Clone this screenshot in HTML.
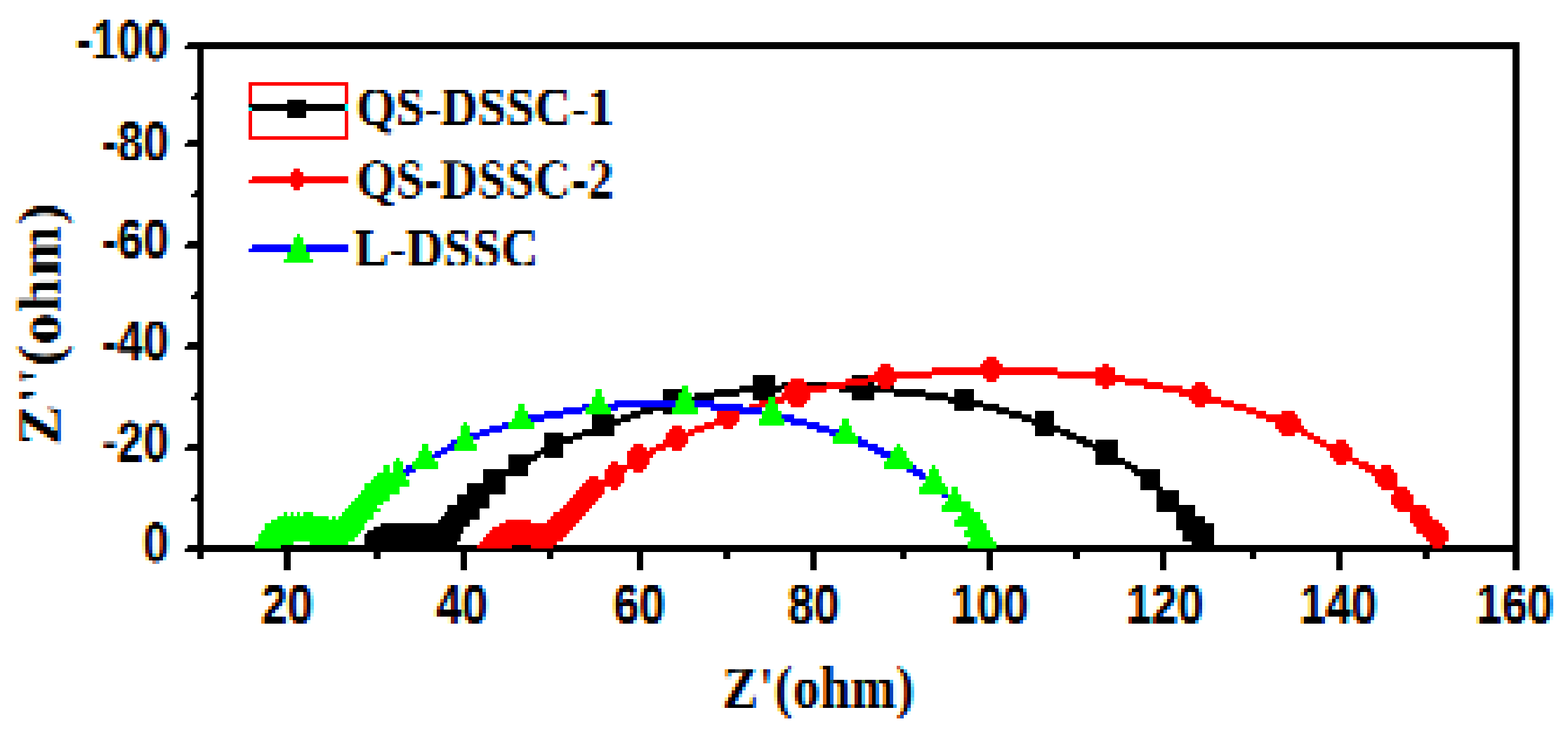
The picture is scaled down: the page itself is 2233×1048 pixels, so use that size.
<!DOCTYPE html>
<html lang="en">
<head>
<meta charset="utf-8">
<title>Nyquist plot</title>
<style>
html,body{margin:0;padding:0;background:#fff;}
body{width:2233px;height:1048px;overflow:hidden;}
svg{display:block;}
text{fill:#000;font-weight:bold;}
.ts{font-family:"Liberation Sans",sans-serif;}
.tf{font-family:"Liberation Serif",serif;}
</style>
</head>
<body>
<svg width="2233" height="1048" viewBox="0 0 2233 1048" shape-rendering="crispEdges" text-rendering="geometricPrecision">
<defs>
<filter id="lcd" filterUnits="userSpaceOnUse" x="0" y="0" width="2233" height="1048" color-interpolation-filters="sRGB">
<feOffset in="SourceAlpha" dx="1.6" result="aR"/>
<feOffset in="SourceAlpha" dx="-1.6" result="aB"/>
<feFlood flood-color="#00ffff" result="cy"/><feComposite in="cy" in2="aR" operator="in" result="lR"/>
<feFlood flood-color="#ff00ff" result="mg"/><feComposite in="mg" in2="SourceAlpha" operator="in" result="lG"/>
<feFlood flood-color="#ffff00" result="ye"/><feComposite in="ye" in2="aB" operator="in" result="lB"/>
<feFlood flood-color="#ffffff" result="w"/>
<feBlend in="lR" in2="w" mode="multiply" result="b1"/>
<feBlend in="lG" in2="b1" mode="multiply" result="b2"/>
<feBlend in="lB" in2="b2" mode="multiply" result="ctc"/>
<feGaussianBlur in="ctc" stdDeviation="1.4 0" result="bl"/>
<feFlood x="4" y="5" width="1" height="1" flood-color="#000" result="dot"/>
<feOffset in="dot" dx="0" dy="0" x="2" y="3" width="5" height="5" result="tile0"/>
<feTile in="tile0" result="dots"/>
<feComposite in="bl" in2="dots" operator="in" result="samp"/>
<feMorphology in="samp" operator="dilate" radius="2 2" result="pix"/>
<feMerge><feMergeNode in="w"/><feMergeNode in="pix"/></feMerge>
</filter>
</defs>
<rect x="0" y="0" width="2233" height="1048" fill="#fff"/>
<g id="labels" filter="url(#lcd)" shape-rendering="auto">
<text class="ts" transform="translate(240.5 84.8) scale(0.825 1.0)" font-size="80" text-anchor="end">-100</text>
<text class="ts" transform="translate(240.5 228.9) scale(0.825 1.0)" font-size="80" text-anchor="end">-80</text>
<text class="ts" transform="translate(240.5 367.8) scale(0.825 1.0)" font-size="80" text-anchor="end">-60</text>
<text class="ts" transform="translate(240.5 511.9) scale(0.825 1.0)" font-size="80" text-anchor="end">-40</text>
<text class="ts" transform="translate(240.5 656.1) scale(0.825 1.0)" font-size="80" text-anchor="end">-20</text>
<text class="ts" transform="translate(240.5 800.1) scale(0.825 1.0)" font-size="80" text-anchor="end">0</text>
<text class="ts" transform="translate(408.9 887.6) scale(0.825 1.0)" font-size="80" text-anchor="middle">20</text>
<text class="ts" transform="translate(657.8 887.6) scale(0.825 1.0)" font-size="80" text-anchor="middle">40</text>
<text class="ts" transform="translate(910.2 887.6) scale(0.825 1.0)" font-size="80" text-anchor="middle">60</text>
<text class="ts" transform="translate(1158.7 887.6) scale(0.825 1.0)" font-size="80" text-anchor="middle">80</text>
<text class="ts" transform="translate(1409.6 887.6) scale(0.825 1.0)" font-size="80" text-anchor="middle">100</text>
<text class="ts" transform="translate(1658.7 887.6) scale(0.825 1.0)" font-size="80" text-anchor="middle">120</text>
<text class="ts" transform="translate(1906.0 887.6) scale(0.825 1.0)" font-size="80" text-anchor="middle">140</text>
<text class="ts" transform="translate(2157.0 887.6) scale(0.825 1.0)" font-size="80" text-anchor="middle">160</text>
<text class="tf" transform="translate(507.5 178.3) scale(0.93 1.0)" font-size="77.5" text-anchor="start" letter-spacing="0.2">QS-DSSC-1</text>
<text class="tf" transform="translate(507.5 281.1) scale(0.93 1.0)" font-size="77.5" text-anchor="start" letter-spacing="0.2">QS-DSSC-2</text>
<text class="tf" transform="translate(504.5 378.6) scale(0.94 1.0)" font-size="77.5" text-anchor="start" letter-spacing="0.6">L-DSSC</text>
<text class="tf" transform="translate(1166.0 1007.0) scale(0.89 1.0)" font-size="85" text-anchor="middle" letter-spacing="1.5">Z'(ohm)</text>
<text class="tf" transform="translate(84.5 461.0) rotate(-90) scale(0.99 0.97)" font-size="88.5" text-anchor="middle" letter-spacing="2">Z''(ohm)</text>
</g>
<g id="plot">
<path fill="#000000" d="M262.8 204.2H290.2V209.3H262.8ZM262.8 348.3H290.2V353.5H262.8ZM262.8 492.5H290.2V497.6H262.8ZM262.8 636.6H290.2V641.8H262.8ZM262.8 65.2H2163.5V70.3H262.8ZM262.8 780.8H2163.5V786.0H262.8ZM267.3 199.0H290.2V204.2H267.3ZM267.3 343.2H290.2V348.3H267.3ZM267.3 487.3H290.2V492.5H267.3ZM267.3 631.5H290.2V636.6H267.3ZM267.3 775.7H363.3V780.8H267.3ZM267.3 60.0H2163.5V65.2H267.3ZM271.9 137.2H290.2V142.4H271.9ZM271.9 276.2H290.2V281.4H271.9ZM271.9 420.4H290.2V425.6H271.9ZM271.9 564.6H290.2V569.7H271.9ZM271.9 708.7H290.2V713.9H271.9ZM276.5 132.1H290.2V137.2H276.5ZM276.5 271.1H290.2V276.2H276.5ZM276.5 415.3H290.2V420.4H276.5ZM276.5 559.4H290.2V564.6H276.5ZM276.5 703.6H290.2V708.7H276.5ZM281.0 70.3H290.2V132.1H281.0ZM281.0 142.4H290.2V199.0H281.0ZM281.0 209.3H290.2V271.1H281.0ZM281.0 281.4H290.2V343.2H281.0ZM281.0 353.5H290.2V415.3H281.0ZM281.0 425.6H290.2V487.3H281.0ZM281.0 497.6H290.2V559.4H281.0ZM281.0 569.7H290.2V631.5H281.0ZM281.0 641.8H290.2V703.6H281.0ZM281.0 713.9H290.2V775.7H281.0ZM281.0 786.0H290.2V796.3H281.0ZM354.1 147.5H491.2V152.7H354.1ZM358.7 152.7H491.2V157.8H358.7ZM399.8 775.7H678.5V780.8H399.8ZM404.4 786.0H413.5V811.7H404.4ZM409.0 142.4H436.4V147.5H409.0ZM409.0 157.8H436.4V168.1H409.0ZM518.6 770.5H651.1V775.7H518.6ZM518.6 760.2H655.7V770.5H518.6ZM523.2 755.1H660.3V760.2H523.2ZM532.3 786.0H541.5V796.3H532.3ZM532.3 749.9H660.3V755.1H532.3ZM541.5 744.8H669.4V749.9H541.5ZM623.7 739.6H669.4V744.8H623.7ZM628.3 734.5H683.1V739.6H628.3ZM632.9 729.3H683.1V734.5H632.9ZM637.4 724.2H683.1V729.3H637.4ZM637.4 719.0H696.8V724.2H637.4ZM651.1 703.6H696.8V719.0H651.1ZM655.7 786.0H664.8V811.7H655.7ZM664.8 688.1H719.7V703.6H664.8ZM687.7 677.8H719.7V688.1H687.7ZM687.7 667.5H751.6V677.8H687.7ZM724.2 662.4H751.6V667.5H724.2ZM724.2 657.2H756.2V662.4H724.2ZM724.2 652.1H765.4V657.2H724.2ZM724.2 646.9H769.9V652.1H724.2ZM728.8 775.7H756.2V780.8H728.8ZM760.8 641.8H801.9V646.9H760.8ZM769.9 636.6H801.9V641.8H769.9ZM774.5 616.1H801.9V621.2H774.5ZM774.5 631.5H801.9V636.6H774.5ZM774.5 646.9H801.9V652.1H774.5ZM774.5 626.4H815.6V631.5H774.5ZM774.5 621.2H829.3V626.4H774.5ZM779.1 786.0H788.2V796.3H779.1ZM788.2 775.7H1377.6V780.8H788.2ZM815.6 616.1H875.0V621.2H815.6ZM829.3 610.9H875.0V616.1H829.3ZM843.0 590.3H875.0V595.5H843.0ZM843.0 605.8H875.0V610.9H843.0ZM843.0 600.6H884.1V605.8H843.0ZM843.0 595.5H897.9V600.6H843.0ZM884.1 590.3H911.6V595.5H884.1ZM897.9 585.2H929.8V590.3H897.9ZM907.0 786.0H916.1V811.7H907.0ZM911.6 580.0H957.3V585.2H911.6ZM943.5 585.2H957.3V590.3H943.5ZM943.5 559.4H966.4V569.7H943.5ZM943.5 554.3H971.0V559.4H943.5ZM984.7 564.6H1016.6V569.7H984.7ZM989.2 559.4H1053.2V564.6H989.2ZM1016.6 554.3H1112.6V559.4H1016.6ZM1030.4 786.0H1039.5V796.3H1030.4ZM1053.2 549.1H1117.2V554.3H1053.2ZM1071.5 564.6H1094.3V569.7H1071.5ZM1071.5 533.7H1103.5V549.1H1071.5ZM1071.5 559.4H1103.5V564.6H1071.5ZM1112.6 544.0H1121.7V549.1H1112.6ZM1149.1 544.0H1176.6V549.1H1149.1ZM1153.7 786.0H1162.9V811.7H1153.7ZM1194.8 554.3H1318.2V559.4H1194.8ZM1204.0 549.1H1254.2V554.3H1204.0ZM1213.1 533.7H1236.0V538.8H1213.1ZM1213.1 559.4H1245.1V569.7H1213.1ZM1236.0 544.0H1245.1V549.1H1236.0ZM1267.9 549.1H1272.5V554.3H1267.9ZM1272.5 559.4H1350.2V564.6H1272.5ZM1281.6 786.0H1290.8V796.3H1281.6ZM1318.2 564.6H1386.7V569.7H1318.2ZM1350.2 569.7H1400.4V574.9H1350.2ZM1359.3 554.3H1386.7V564.6H1359.3ZM1359.3 580.0H1386.7V585.2H1359.3ZM1359.3 574.9H1423.3V580.0H1359.3ZM1400.4 580.0H1437.0V585.2H1400.4ZM1405.0 786.0H1414.2V811.7H1405.0ZM1418.7 585.2H1455.3V590.3H1418.7ZM1418.7 775.7H2040.1V780.8H1418.7ZM1437.0 590.3H1469.0V595.5H1437.0ZM1455.3 595.5H1501.0V600.6H1455.3ZM1469.0 600.6H1501.0V605.8H1469.0ZM1473.5 585.2H1501.0V595.5H1473.5ZM1473.5 616.1H1501.0V621.2H1473.5ZM1473.5 605.8H1510.1V610.9H1473.5ZM1473.5 610.9H1523.8V616.1H1473.5ZM1510.1 616.1H1532.9V621.2H1510.1ZM1519.2 621.2H1546.7V626.4H1519.2ZM1528.4 786.0H1537.5V796.3H1528.4ZM1532.9 626.4H1555.8V631.5H1532.9ZM1542.1 631.5H1592.3V636.6H1542.1ZM1555.8 636.6H1592.3V641.8H1555.8ZM1560.4 626.4H1592.3V631.5H1560.4ZM1560.4 641.8H1592.3V652.1H1560.4ZM1560.4 652.1H1601.5V657.2H1560.4ZM1560.4 657.2H1610.6V662.4H1560.4ZM1601.5 662.4H1619.8V667.5H1601.5ZM1610.6 667.5H1651.7V672.7H1610.6ZM1615.2 672.7H1651.7V677.8H1615.2ZM1624.3 677.8H1651.7V693.3H1624.3ZM1624.3 693.3H1656.3V698.4H1624.3ZM1647.2 698.4H1679.2V719.0H1647.2ZM1647.2 719.0H1702.0V729.3H1647.2ZM1651.7 786.0H1660.9V811.7H1651.7ZM1674.6 729.3H1702.0V734.5H1674.6ZM1674.6 734.5H1715.7V744.8H1674.6ZM1674.6 744.8H1729.4V755.1H1674.6ZM1683.7 755.1H1729.4V770.5H1683.7ZM1697.4 770.5H1729.4V775.7H1697.4ZM1779.7 786.0H1788.8V796.3H1779.7ZM1903.0 786.0H1912.2V811.7H1903.0ZM2026.4 786.0H2035.5V796.3H2026.4ZM2053.8 775.7H2163.5V780.8H2053.8ZM2154.3 70.3H2163.5V775.7H2154.3ZM2154.3 786.0H2163.5V811.7H2154.3Z"/>
<path fill="#ff0000" d="M354.1 121.8H358.7V147.5H354.1ZM354.1 157.8H358.7V193.9H354.1ZM354.1 116.6H495.8V121.8H354.1ZM354.1 193.9H495.8V199.0H354.1ZM354.1 255.7H495.8V260.8H354.1ZM358.7 250.5H495.8V255.7H358.7ZM413.5 245.4H431.8V250.5H413.5ZM413.5 260.8H431.8V265.9H413.5ZM418.1 240.2H427.2V245.4H418.1ZM418.1 265.9H427.2V271.1H418.1ZM491.2 121.8H495.8V147.5H491.2ZM491.2 157.8H495.8V193.9H491.2ZM678.5 775.7H728.8V780.8H678.5ZM683.1 770.5H792.8V775.7H683.1ZM687.7 765.4H801.9V770.5H687.7ZM692.2 760.2H806.5V765.4H692.2ZM696.8 755.1H811.0V760.2H696.8ZM701.4 749.9H815.6V755.1H701.4ZM710.5 744.8H820.2V749.9H710.5ZM719.7 739.6H756.2V744.8H719.7ZM756.2 775.7H788.2V780.8H756.2ZM779.1 739.6H824.8V744.8H779.1ZM783.6 734.5H829.3V739.6H783.6ZM788.2 729.3H833.9V734.5H788.2ZM797.3 724.2H838.5V729.3H797.3ZM801.9 719.0H843.0V724.2H801.9ZM806.5 713.9H847.6V719.0H806.5ZM811.0 708.7H852.2V713.9H811.0ZM815.6 703.6H856.7V708.7H815.6ZM820.2 698.4H861.3V703.6H820.2ZM824.8 693.3H861.3V698.4H824.8ZM829.3 688.1H884.1V693.3H829.3ZM833.9 683.0H888.7V688.1H833.9ZM838.5 677.8H852.2V683.0H838.5ZM861.3 672.7H888.7V683.0H861.3ZM861.3 667.5H893.3V672.7H861.3ZM865.9 662.4H920.7V667.5H865.9ZM870.4 657.2H879.6V662.4H870.4ZM870.4 693.3H879.6V698.4H870.4ZM893.3 652.1H925.3V662.4H893.3ZM893.3 646.9H929.8V652.1H893.3ZM893.3 641.8H934.4V646.9H893.3ZM897.9 636.6H920.7V641.8H897.9ZM902.4 631.5H916.1V636.6H902.4ZM902.4 667.5H916.1V672.7H902.4ZM925.3 636.6H948.1V641.8H925.3ZM934.4 631.5H975.5V636.6H934.4ZM943.5 626.4H980.1V631.5H943.5ZM948.1 621.2H980.1V626.4H948.1ZM948.1 616.1H989.2V621.2H948.1ZM952.7 610.9H975.5V616.1H952.7ZM957.3 605.8H971.0V610.9H957.3ZM957.3 636.6H971.0V641.8H957.3ZM980.1 610.9H1002.9V616.1H980.1ZM989.2 605.8H1016.6V610.9H989.2ZM1002.9 600.6H1048.6V605.8H1002.9ZM1016.6 595.5H1053.2V600.6H1016.6ZM1021.2 585.2H1053.2V595.5H1021.2ZM1030.4 605.8H1044.1V610.9H1030.4ZM1066.9 574.9H1089.8V580.0H1066.9ZM1080.6 569.7H1094.3V574.9H1080.6ZM1103.5 569.7H1117.2V574.9H1103.5ZM1103.5 564.6H1153.7V569.7H1103.5ZM1112.6 559.4H1153.7V564.6H1112.6ZM1117.2 554.3H1176.6V559.4H1117.2ZM1117.2 549.1H1204.0V554.3H1117.2ZM1121.7 544.0H1149.1V549.1H1121.7ZM1121.7 569.7H1149.1V574.9H1121.7ZM1126.3 538.8H1144.6V544.0H1126.3ZM1126.3 574.9H1144.6V580.0H1126.3ZM1176.6 544.0H1236.0V549.1H1176.6ZM1204.0 538.8H1277.1V544.0H1204.0ZM1236.0 533.7H1327.3V538.8H1236.0ZM1245.1 528.5H1587.8V533.7H1245.1ZM1249.7 523.4H1272.5V528.5H1249.7ZM1249.7 544.0H1272.5V549.1H1249.7ZM1254.2 518.2H1267.9V523.4H1254.2ZM1254.2 549.1H1267.9V554.3H1254.2ZM1327.3 523.4H1505.5V528.5H1327.3ZM1395.9 518.2H1427.9V523.4H1395.9ZM1400.4 513.1H1423.3V518.2H1400.4ZM1400.4 533.7H1423.3V538.8H1400.4ZM1405.0 507.9H1418.7V513.1H1405.0ZM1405.0 538.8H1418.7V544.0H1405.0ZM1505.5 533.7H1601.5V538.8H1505.5ZM1560.4 523.4H1587.8V528.5H1560.4ZM1560.4 544.0H1587.8V549.1H1560.4ZM1560.4 538.8H1633.5V544.0H1560.4ZM1569.5 518.2H1578.6V523.4H1569.5ZM1569.5 549.1H1578.6V554.3H1569.5ZM1601.5 544.0H1656.3V549.1H1601.5ZM1628.9 549.1H1683.7V554.3H1628.9ZM1656.3 554.3H1724.8V559.4H1656.3ZM1679.2 559.4H1724.8V564.6H1679.2ZM1692.9 564.6H1738.5V569.7H1692.9ZM1697.4 549.1H1720.3V554.3H1697.4ZM1697.4 569.7H1756.8V574.9H1697.4ZM1702.0 544.0H1715.7V549.1H1702.0ZM1702.0 574.9H1715.7V580.0H1702.0ZM1738.5 574.9H1775.1V580.0H1738.5ZM1756.8 580.0H1788.8V585.2H1756.8ZM1775.1 585.2H1802.5V590.3H1775.1ZM1788.8 590.3H1848.2V595.5H1788.8ZM1802.5 595.5H1852.8V600.6H1802.5ZM1816.2 600.6H1852.8V605.8H1816.2ZM1816.2 605.8H1857.3V610.9H1816.2ZM1820.8 610.9H1861.9V616.1H1820.8ZM1825.4 585.2H1843.6V590.3H1825.4ZM1825.4 616.1H1843.6V621.2H1825.4ZM1852.8 616.1H1871.1V621.2H1852.8ZM1861.9 621.2H1880.2V626.4H1861.9ZM1871.1 626.4H1889.3V631.5H1871.1ZM1880.2 631.5H1921.3V636.6H1880.2ZM1889.3 636.6H1925.9V641.8H1889.3ZM1893.9 641.8H1925.9V652.1H1893.9ZM1898.5 652.1H1935.0V657.2H1898.5ZM1903.0 626.4H1916.7V631.5H1903.0ZM1903.0 657.2H1916.7V662.4H1903.0ZM1925.9 657.2H1948.7V662.4H1925.9ZM1935.0 662.4H1957.9V667.5H1935.0ZM1944.2 667.5H1985.3V672.7H1944.2ZM1953.3 672.7H1989.8V677.8H1953.3ZM1957.9 677.8H1989.8V688.1H1957.9ZM1962.4 688.1H1989.8V693.3H1962.4ZM1967.0 662.4H1980.7V667.5H1967.0ZM1967.0 693.3H2003.6V698.4H1967.0ZM1980.7 703.6H2012.7V719.0H1980.7ZM1985.3 698.4H2008.1V703.6H1985.3ZM1985.3 719.0H2031.0V724.2H1985.3ZM1989.8 724.2H2035.5V729.3H1989.8ZM2008.1 729.3H2035.5V734.5H2008.1ZM2008.1 734.5H2040.1V739.6H2008.1ZM2008.1 739.6H2049.2V744.8H2008.1ZM2012.7 744.8H2053.8V749.9H2012.7ZM2017.3 749.9H2058.4V755.1H2017.3ZM2017.3 755.1H2062.9V760.2H2017.3ZM2026.4 760.2H2062.9V765.4H2026.4ZM2031.0 765.4H2062.9V770.5H2031.0ZM2035.5 770.5H2058.4V775.7H2035.5ZM2040.1 775.7H2053.8V780.8H2040.1Z"/>
<path fill="#0000ff" d="M354.1 353.5H413.5V358.6H354.1ZM358.7 348.3H413.5V353.5H358.7ZM436.4 348.3H495.8V358.6H436.4ZM573.5 667.5H591.7V672.7H573.5ZM578.0 672.7H582.6V677.8H578.0ZM578.0 662.4H587.2V667.5H578.0ZM614.6 646.9H628.3V652.1H614.6ZM619.1 641.8H637.4V646.9H619.1ZM628.3 636.6H646.6V641.8H628.3ZM637.4 631.5H646.6V636.6H637.4ZM642.0 626.4H651.1V631.5H642.0ZM669.4 616.1H696.8V621.2H669.4ZM674.0 621.2H683.1V626.4H674.0ZM683.1 610.9H715.1V616.1H683.1ZM696.8 605.8H724.2V610.9H696.8ZM715.1 600.6H724.2V605.8H715.1ZM751.6 590.3H801.9V595.5H751.6ZM756.2 595.5H774.5V600.6H756.2ZM774.5 585.2H829.3V590.3H774.5ZM801.9 580.0H833.9V585.2H801.9ZM829.3 574.9H838.5V580.0H829.3ZM865.9 574.9H961.8V580.0H865.9ZM870.4 580.0H879.6V585.2H870.4ZM875.0 569.7H961.8V574.9H875.0ZM989.2 569.7H1016.6V574.9H989.2ZM989.2 574.9H1057.8V580.0H989.2ZM1012.1 580.0H1085.2V585.2H1012.1ZM1053.2 585.2H1085.2V590.3H1053.2ZM1112.6 590.3H1130.9V595.5H1112.6ZM1117.2 595.5H1149.1V600.6H1117.2ZM1126.3 600.6H1167.4V605.8H1126.3ZM1149.1 605.8H1181.1V610.9H1149.1ZM1162.9 610.9H1194.8V616.1H1162.9ZM1181.1 616.1H1190.3V621.2H1181.1ZM1222.3 621.2H1226.8V626.4H1222.3ZM1222.3 626.4H1236.0V631.5H1222.3ZM1222.3 631.5H1249.7V636.6H1222.3ZM1236.0 636.6H1258.8V641.8H1236.0ZM1245.1 641.8H1267.9V646.9H1245.1ZM1254.2 646.9H1267.9V652.1H1254.2ZM1290.8 667.5H1313.6V672.7H1290.8ZM1299.9 662.4H1304.5V667.5H1299.9ZM1299.9 672.7H1318.2V677.8H1299.9ZM1309.1 677.8H1318.2V683.0H1309.1ZM1341.0 703.6H1350.2V708.7H1341.0Z"/>
<path fill="#00ff00" d="M363.3 775.7H399.8V780.8H363.3ZM363.3 770.5H418.1V775.7H363.3ZM367.8 765.4H504.9V770.5H367.8ZM367.8 760.2H509.5V765.4H367.8ZM372.4 755.1H514.1V760.2H372.4ZM377.0 744.8H518.6V755.1H377.0ZM386.1 739.6H523.2V744.8H386.1ZM395.3 734.5H468.4V739.6H395.3ZM404.4 729.3H409.0V734.5H404.4ZM404.4 368.9H445.5V374.1H404.4ZM409.0 358.6H441.0V368.9H409.0ZM413.5 729.3H418.1V734.5H413.5ZM413.5 348.3H436.4V358.6H413.5ZM418.1 338.0H431.8V348.3H418.1ZM422.7 332.9H427.2V338.0H422.7ZM422.7 729.3H427.2V734.5H422.7ZM431.8 729.3H445.5V734.5H431.8ZM441.0 770.5H495.8V775.7H441.0ZM472.9 734.5H477.5V739.6H472.9ZM482.1 734.5H532.3V739.6H482.1ZM486.6 729.3H532.3V734.5H486.6ZM491.2 724.2H541.5V729.3H491.2ZM495.8 719.0H536.9V724.2H495.8ZM500.4 713.9H546.0V719.0H500.4ZM504.9 708.7H555.2V713.9H504.9ZM509.5 703.6H555.2V708.7H509.5ZM514.1 698.4H568.9V703.6H514.1ZM518.6 693.3H568.9V698.4H518.6ZM518.6 688.1H582.6V693.3H518.6ZM527.8 683.0H582.6V688.1H527.8ZM532.3 677.8H578.0V683.0H532.3ZM536.9 672.7H578.0V677.8H536.9ZM546.0 662.4H555.2V672.7H546.0ZM559.7 657.2H573.5V672.7H559.7ZM564.3 652.1H568.9V657.2H564.3ZM587.2 657.2H623.7V667.5H587.2ZM591.7 652.1H619.1V657.2H591.7ZM596.3 641.8H614.6V652.1H596.3ZM600.9 631.5H610.0V641.8H600.9ZM646.6 631.5H678.5V641.8H646.6ZM651.1 621.2H674.0V631.5H651.1ZM655.7 605.8H669.4V621.2H655.7ZM660.3 600.6H664.8V605.8H660.3ZM724.2 600.6H760.8V610.9H724.2ZM728.8 595.5H756.2V600.6H728.8ZM733.4 585.2H751.6V595.5H733.4ZM737.9 574.9H747.1V585.2H737.9ZM833.9 580.0H870.4V590.3H833.9ZM838.5 574.9H865.9V580.0H838.5ZM843.0 564.6H861.3V574.9H843.0ZM847.6 554.3H856.7V564.6H847.6ZM957.3 580.0H993.8V590.3H957.3ZM961.8 569.7H989.2V580.0H961.8ZM966.4 559.4H984.7V569.7H966.4ZM971.0 549.1H980.1V559.4H971.0ZM1080.6 595.5H1117.2V605.8H1080.6ZM1085.2 585.2H1112.6V595.5H1085.2ZM1089.8 574.9H1108.0V585.2H1089.8ZM1094.3 564.6H1103.5V574.9H1094.3ZM1185.7 621.2H1222.3V631.5H1185.7ZM1190.3 616.1H1217.7V621.2H1190.3ZM1194.8 605.8H1213.1V616.1H1194.8ZM1199.4 595.5H1208.5V605.8H1199.4ZM1258.8 657.2H1299.9V667.5H1258.8ZM1263.4 652.1H1295.4V657.2H1263.4ZM1267.9 641.8H1290.8V652.1H1267.9ZM1272.5 636.6H1286.2V641.8H1272.5ZM1277.1 631.5H1281.6V636.6H1277.1ZM1309.1 693.3H1350.2V703.6H1309.1ZM1313.6 688.1H1345.6V693.3H1313.6ZM1318.2 677.8H1341.0V688.1H1318.2ZM1322.8 667.5H1336.5V677.8H1322.8ZM1327.3 662.4H1331.9V667.5H1327.3ZM1341.0 719.0H1382.2V724.2H1341.0ZM1341.0 724.2H1386.7V729.3H1341.0ZM1345.6 713.9H1382.2V719.0H1345.6ZM1350.2 703.6H1368.5V713.9H1350.2ZM1354.8 693.3H1363.9V703.6H1354.8ZM1359.3 739.6H1400.4V744.8H1359.3ZM1359.3 744.8H1405.0V749.9H1359.3ZM1363.9 734.5H1395.9V739.6H1363.9ZM1368.5 729.3H1395.9V734.5H1368.5ZM1373.0 755.1H1409.6V765.4H1373.0ZM1377.6 749.9H1405.0V755.1H1377.6ZM1377.6 770.5H1418.7V780.8H1377.6ZM1382.2 765.4H1414.2V770.5H1382.2Z"/>
<path fill="#00ffff" d="M354.1 152.7H358.7V157.8H354.1ZM491.2 147.5H495.8V157.8H491.2Z"/>
</g>
</svg>
</body>
</html>
